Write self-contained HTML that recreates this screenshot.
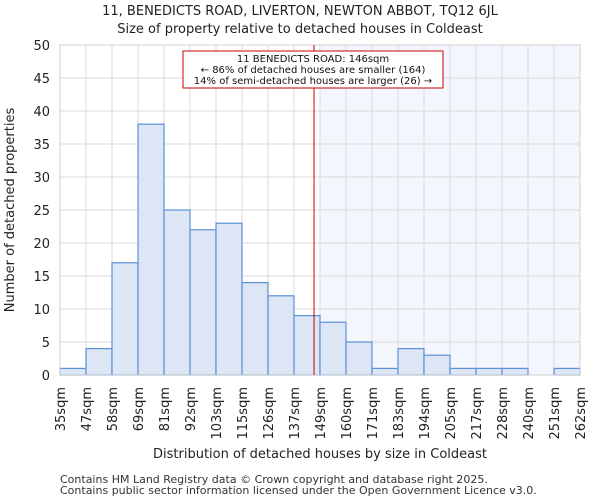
<!DOCTYPE html>
<html><head><meta charset="utf-8"><style>
body{margin:0;background:#fff;}
svg{display:block;font-family:"DejaVu Sans","Liberation Sans",sans-serif;}
</style></head><body>
<svg id="chart" width="600" height="500"></svg>
<script>
const binLabels=["35sqm","47sqm","58sqm","69sqm","81sqm","92sqm","103sqm","115sqm","126sqm","137sqm","149sqm","160sqm","171sqm","183sqm","194sqm","205sqm","217sqm","228sqm","240sqm","251sqm","262sqm"];
const counts=[1,4,17,38,25,22,23,14,12,9,8,5,1,4,3,1,1,1,0,1];
const yTicks=[0,5,10,15,20,25,30,35,40,45,50];
const markerBin=9.77; // property position in bin units (146sqm)
const shadeFromBin=10;

const NS="http://www.w3.org/2000/svg";
const svg=document.getElementById('chart');
const L=60,R=580,T=45,B=375,yMax=50;
const bw=(R-L)/counts.length;
const xs=i=>L+i*bw;
const ys=v=>B-(v/yMax)*(B-T);
function mk(tag,attrs,parent){const e=document.createElementNS(NS,tag);for(const k in attrs)e.setAttribute(k,attrs[k]);(parent||svg).appendChild(e);return e;}

let sh=mk('rect',{x:xs(shadeFromBin),y:T,width:R-xs(shadeFromBin),height:B-T,fill:'#f4f6fd'});


yTicks.forEach(t=>{
  let g=mk('line',{x1:L,x2:R,y1:ys(t),y2:ys(t),stroke:'#dadada','stroke-width':1});
  
  
  let tx=mk('text',{x:L-10,y:ys(t)+5,'text-anchor':'end','font-size':13,fill:'#222'});
  tx.textContent=t;
  
  
});
binLabels.forEach((lb,i)=>{
  let g=mk('line',{x1:xs(i),x2:xs(i),y1:T,y2:B,stroke:'#dadada','stroke-width':1});
  
  
  let tx=mk('text',{x:0,y:0,'text-anchor':'end','font-size':13,fill:'#222',transform:`translate(${xs(i)+5},${B+12}) rotate(-90)`});
  tx.textContent=lb;
  
  
});
counts.forEach((c,i)=>{
  if(c<=0)return;
  let r=mk('rect',{x:xs(i),y:ys(c),width:bw,height:B-ys(c),fill:'#dce6f5',stroke:'#5b8fd6','stroke-width':1.2});
  
  
});
let ax=mk('rect',{x:L,y:T,width:R-L,height:B-T,fill:'none',stroke:'#d0d0d0'});


let ml=mk('line',{x1:xs(markerBin),x2:xs(markerBin),y1:T,y2:B,stroke:'#cc0000','stroke-width':1});


let ab=mk('rect',{x:183,y:51,width:260,height:37,fill:'#fff',stroke:'#cc0000','stroke-width':1});


["11 BENEDICTS ROAD: 146sqm","← 86% of detached houses are smaller (164)","14% of semi-detached houses are larger (26) →"].forEach((s,i)=>{
  let t=mk('text',{x:313,y:62+i*11,'text-anchor':'middle','font-size':10,fill:'#111'});
  t.textContent=s;
  
  
});
</script>
<svg style="position:absolute;left:0;top:0" width="600" height="500">
<text x="300" y="15" text-anchor="middle" font-size="13" fill="#222">11, BENEDICTS ROAD, LIVERTON, NEWTON ABBOT, TQ12 6JL</text>
<text x="300" y="33" text-anchor="middle" font-size="13" fill="#222">Size of property relative to detached houses in Coldeast</text>
<text x="320" y="458" text-anchor="middle" font-size="13" fill="#222">Distribution of detached houses by size in Coldeast</text>
<text transform="translate(14,210) rotate(-90)" text-anchor="middle" font-size="13" fill="#222">Number of detached properties</text>
<text x="60" y="483" font-size="11" fill="#333">Contains HM Land Registry data © Crown copyright and database right 2025.</text>
<text x="60" y="494" font-size="11" fill="#333">Contains public sector information licensed under the Open Government Licence v3.0.</text>
</svg>
</body></html>
